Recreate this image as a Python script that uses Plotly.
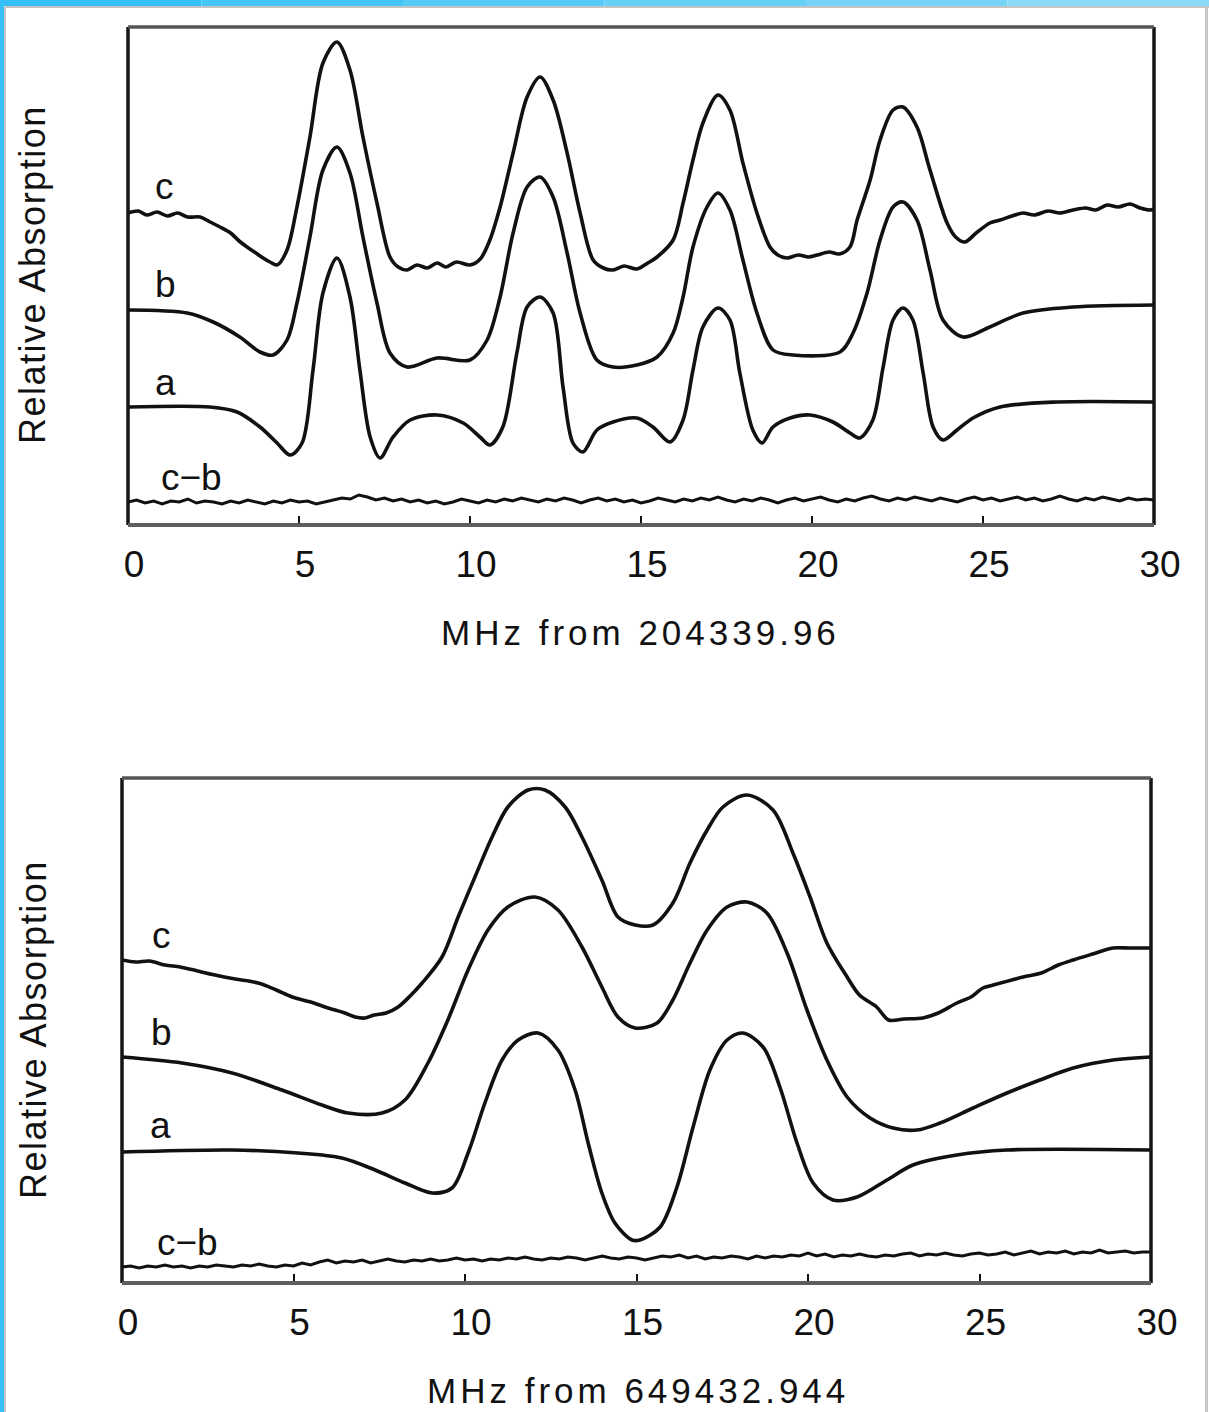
import numpy as np
import plotly.graph_objects as go

# ---------------------------------------------------------------------------
# Spectra: frequency offset (MHz) and relative absorption (arbitrary units)
# ---------------------------------------------------------------------------

# Upper panel: offsets from 204339.96 MHz
TOP_C_MHZ = [0.00, 0.30, 0.55, 0.85, 1.15, 1.45, 1.75, 2.11, 2.40, 2.69, 3.00, 3.25, 3.48, 3.70,
             3.95, 4.15, 4.36, 4.65, 4.94, 5.32, 5.70, 6.11, 6.49, 6.87, 7.28, 7.66, 7.90, 8.16,
             8.45, 8.75, 9.04, 9.30, 9.60, 10.00, 10.30, 10.58, 10.88, 11.26, 11.67, 12.05, 12.43,
             12.84, 13.22, 13.60, 13.90, 14.18, 14.50, 14.88, 15.20, 15.47, 15.94, 16.23, 16.52,
             16.81, 17.25, 17.60, 17.98, 18.39, 18.77, 19.00, 19.27, 19.60, 19.90, 20.15, 20.50,
             20.80, 21.11, 21.32, 21.70, 21.99, 22.37, 22.66, 23.07, 23.45, 23.95, 24.20, 24.47,
             24.80, 25.20, 25.50, 25.85, 26.17, 26.50, 26.90, 27.25, 27.63, 28.00, 28.30, 28.63,
             28.95, 29.30, 29.60, 29.88, 30.00]
TOP_C_ABS = [3.12, 3.14, 3.10, 3.13, 3.09, 3.12, 3.08, 3.08, 3.03, 2.98, 2.92, 2.84, 2.78, 2.73,
             2.67, 2.63, 2.60, 2.75, 3.18, 3.88, 4.62, 4.83, 4.55, 3.88, 3.22, 2.68, 2.58, 2.55,
             2.60, 2.57, 2.62, 2.58, 2.63, 2.60, 2.66, 2.85, 3.18, 3.72, 4.28, 4.48, 4.25,
             3.72, 3.12, 2.65, 2.57, 2.55, 2.59, 2.56, 2.62, 2.68, 2.85, 3.22, 3.65,
             4.02, 4.30, 4.15, 3.62, 3.12, 2.78, 2.70, 2.67, 2.70, 2.68, 2.70, 2.73,
             2.71, 2.78, 3.05, 3.45, 3.85, 4.15, 4.18, 3.98, 3.55, 3.02, 2.88, 2.83,
             2.92, 3.02, 3.05, 3.09, 3.12, 3.10, 3.14, 3.12, 3.15, 3.17, 3.15, 3.20,
             3.18, 3.21, 3.17, 3.15, 3.16]

TOP_B_MHZ = [0.00, 1.73, 2.49, 3.27, 3.86, 4.24, 4.65, 4.94, 5.32, 5.70, 6.11, 6.49, 6.87, 7.28,
             7.66, 8.16, 9.04, 10.00, 10.50, 10.88, 11.26, 11.67, 12.05, 12.43, 12.84, 13.22,
             13.71, 14.18, 14.88, 15.47, 15.94, 16.23, 16.52, 16.93, 17.25, 17.60, 17.98, 18.39,
             18.86, 19.44, 20.82, 21.20, 21.61, 21.99, 22.37, 22.66, 23.07, 23.45, 23.83, 24.42,
             25.20, 26.17, 27.63, 30.00]
TOP_B_ABS = [2.15, 2.12, 2.03, 1.88, 1.73, 1.70, 1.85, 2.22, 2.88, 3.55, 3.78, 3.52, 2.88, 2.22,
             1.72, 1.58, 1.67, 1.65, 1.85, 2.28, 2.92, 3.38, 3.48, 3.28, 2.72, 2.12,
             1.65, 1.58, 1.60, 1.68, 1.92, 2.28, 2.78, 3.18, 3.32, 3.15, 2.65, 2.12,
             1.75, 1.70, 1.73, 1.92, 2.32, 2.85, 3.18, 3.23, 3.05, 2.55, 2.05, 1.88,
             1.98, 2.12, 2.18, 2.20]

TOP_A_MHZ = [0.00, 2.40, 3.19, 3.86, 4.36, 4.74, 5.09, 5.41, 5.70, 6.11, 6.49, 6.78, 7.08, 7.37,
             7.75, 8.25, 9.04, 9.80, 10.29, 10.58, 10.96, 11.37, 11.67, 12.05, 12.43, 12.72,
             13.01, 13.30, 13.71, 14.18, 14.88, 15.35, 15.85, 16.23, 16.52, 16.81, 17.25, 17.60,
             17.89, 18.27, 18.54, 18.86, 19.36, 19.94, 20.61, 21.11, 21.40, 21.78, 22.08, 22.37,
             22.66, 22.95, 23.25, 23.54, 23.83, 24.24, 24.71, 25.50, 27.16, 30.00]
TOP_A_ABS = [1.18, 1.18, 1.13, 0.98, 0.82, 0.70, 0.82, 1.55, 2.32, 2.67, 2.28, 1.55, 0.88, 0.67,
             0.88, 1.05, 1.10, 1.02, 0.88, 0.80, 0.98, 1.72, 2.18, 2.28, 2.12, 1.38,
             0.82, 0.73, 0.95, 1.03, 1.07, 0.98, 0.83, 1.05, 1.55, 1.98, 2.17, 2.05,
             1.52, 0.95, 0.82, 0.98, 1.07, 1.10, 1.03, 0.92, 0.87, 1.05, 1.58, 2.05,
             2.17, 2.05, 1.52, 0.98, 0.85, 0.95, 1.07, 1.18, 1.23, 1.23]

# difference spectrum c-b, sampled every 0.25 MHz
TOP_DIFF_ABS = [0.23, 0.25, 0.22, 0.24, 0.21, 0.24, 0.23, 0.26, 0.22, 0.24,
                0.23, 0.21, 0.24, 0.22, 0.25, 0.23, 0.21, 0.24, 0.22, 0.25,
                0.23, 0.24, 0.21, 0.23, 0.25, 0.27, 0.26, 0.30, 0.28, 0.25,
                0.27, 0.24, 0.26, 0.23, 0.25, 0.22, 0.24, 0.21, 0.23, 0.26,
                0.24, 0.22, 0.25, 0.23, 0.26, 0.24, 0.27, 0.25, 0.23, 0.26,
                0.24, 0.27, 0.25, 0.22, 0.25, 0.27, 0.24, 0.26, 0.23, 0.25,
                0.22, 0.24, 0.27, 0.25, 0.23, 0.26, 0.24, 0.27, 0.25, 0.28,
                0.25, 0.23, 0.26, 0.24, 0.27, 0.25, 0.22, 0.25, 0.27, 0.24,
                0.26, 0.28, 0.25, 0.23, 0.26, 0.24, 0.27, 0.29, 0.26, 0.24,
                0.27, 0.25, 0.28, 0.26, 0.24, 0.27, 0.25, 0.23, 0.26, 0.28,
                0.25, 0.27, 0.24, 0.26, 0.28, 0.25, 0.27, 0.24, 0.26, 0.29,
                0.26, 0.24, 0.27, 0.25, 0.28, 0.26, 0.24, 0.27, 0.25, 0.26,
                0.25]

# Lower panel: offsets from 649432.944 MHz
BOT_C_MHZ = [0.00, 0.40, 0.80, 1.25, 1.70, 2.20, 2.71, 3.30, 3.97, 4.50, 4.96, 5.50, 6.01, 6.50,
             6.80, 7.08, 7.35, 7.70, 8.05, 8.40, 8.75, 9.33, 9.80, 10.29, 10.79, 11.25, 11.84,
             12.33, 12.92, 13.41, 13.99, 14.46, 14.96, 15.48, 16.06, 16.56, 17.06, 17.52, 18.22,
             18.98, 19.56, 20.06, 20.55, 21.14, 21.50, 22.00, 22.35, 22.80, 23.35, 23.80, 24.34,
             24.75, 25.10, 25.40, 26.27, 26.80, 27.30, 27.73, 28.30, 28.89, 29.40, 30.00]
BOT_C_ABS = [3.23, 3.21, 3.22, 3.18, 3.16, 3.12, 3.08, 3.04, 3.00, 2.93, 2.86, 2.81, 2.75, 2.70,
             2.66, 2.65, 2.68, 2.70, 2.76, 2.87, 3.00, 3.26, 3.66, 4.06, 4.46, 4.76, 4.93,
             4.93, 4.76, 4.46, 4.03, 3.66, 3.58, 3.58, 3.80, 4.20, 4.53, 4.76, 4.88,
             4.73, 4.30, 3.86, 3.40, 3.06, 2.88, 2.76, 2.63, 2.64, 2.65, 2.70, 2.80,
             2.86, 2.95, 2.98, 3.06, 3.10, 3.18, 3.23, 3.29, 3.35, 3.35, 3.35]

BOT_B_MHZ = [0.00, 1.75, 3.21, 4.66, 5.83, 6.59, 7.58, 8.25, 8.92, 9.50, 10.09, 10.67, 11.25,
             12.04, 12.71, 13.41, 13.99, 14.46, 14.96, 15.60, 16.06, 16.56, 17.06, 17.64, 18.22,
             18.80, 19.39, 19.97, 20.55, 21.14, 21.81, 22.48, 23.18, 23.85, 24.81, 25.80, 26.76,
             27.73, 28.89, 30.00]
BOT_B_ABS = [2.26, 2.20, 2.10, 1.93, 1.78, 1.70, 1.70, 1.83, 2.20, 2.63, 3.13, 3.53, 3.76,
             3.86, 3.73, 3.36, 2.96, 2.66, 2.55, 2.60, 2.83, 3.20, 3.53, 3.76, 3.81,
             3.70, 3.30, 2.73, 2.23, 1.86, 1.65, 1.55, 1.53, 1.60, 1.75, 1.90, 2.03,
             2.15, 2.23, 2.26]

BOT_A_MHZ = [0.00, 3.21, 5.13, 6.41, 7.38, 8.25, 9.04, 9.62, 10.09, 10.58, 11.08, 11.55, 12.13,
             12.71, 13.21, 13.59, 13.99, 14.37, 14.87, 15.10, 15.69, 16.18, 16.65, 17.14, 17.64,
             18.10, 18.69, 19.18, 19.68, 20.15, 20.73, 21.43, 22.30, 23.06, 24.34, 25.80, 30.00]
BOT_A_ABS = [1.31, 1.33, 1.30, 1.25, 1.13, 1.00, 0.90, 0.95, 1.30, 1.80, 2.23, 2.43, 2.50,
             2.33, 1.93, 1.40, 0.90, 0.60, 0.43, 0.43, 0.56, 0.96, 1.56, 2.13, 2.43,
             2.50, 2.36, 1.96, 1.40, 1.00, 0.83, 0.86, 1.03, 1.18, 1.28, 1.33, 1.33]

BOT_DIFF_ABS = [0.16, 0.17, 0.15, 0.17, 0.16, 0.18, 0.16, 0.17, 0.15, 0.17,
                0.16, 0.18, 0.17, 0.16, 0.18, 0.17, 0.19, 0.17, 0.16, 0.18,
                0.17, 0.20, 0.18, 0.21, 0.23, 0.20, 0.22, 0.21, 0.23, 0.20,
                0.22, 0.24, 0.22, 0.21, 0.23, 0.22, 0.24, 0.22, 0.23, 0.25,
                0.23, 0.24, 0.22, 0.24, 0.23, 0.25, 0.24, 0.26, 0.24, 0.23,
                0.25, 0.24, 0.26, 0.25, 0.23, 0.25, 0.27, 0.25, 0.24, 0.26,
                0.25, 0.23, 0.25, 0.27, 0.26, 0.28, 0.25, 0.27, 0.24, 0.26,
                0.25, 0.27, 0.26, 0.24, 0.27, 0.25, 0.27, 0.26, 0.28, 0.27,
                0.30, 0.27, 0.29, 0.26, 0.28, 0.27, 0.29, 0.27, 0.26, 0.28,
                0.27, 0.29, 0.30, 0.27, 0.29, 0.28, 0.30, 0.28, 0.27, 0.29,
                0.30, 0.28, 0.29, 0.31, 0.28, 0.30, 0.32, 0.29, 0.31, 0.30,
                0.32, 0.29, 0.31, 0.30, 0.33, 0.30, 0.31, 0.32, 0.30, 0.31,
                0.31]

DIFF_STEP_MHZ = 0.25
X_TICKS = [0, 5, 10, 15, 20, 25, 30]
TOP_XTITLE = "MHz from 204339.96"
BOT_XTITLE = "MHz from 649432.944"
YTITLE = "Relative Absorption"
TRACE_LABELS = ["c", "b", "a", "c\u2212b"]

# ---------------------------------------------------------------------------
FONT = "Liberation Sans, Arial, Helvetica, sans-serif"
INK = "#111111"
W, H = 1209, 1412


def px_x(p):
    return p / W


def px_y(p):
    return 1 - p / H


diff_x_top = np.arange(len(TOP_DIFF_ABS)) * DIFF_STEP_MHZ
diff_x_bot = np.arange(len(BOT_DIFF_ABS)) * DIFF_STEP_MHZ

fig = go.Figure()


def add_curve(x, y, axis, shape="spline", width=3.6):
    line = dict(color=INK, width=width, shape=shape)
    if shape == "spline":
        line["smoothing"] = 0.9
    fig.add_trace(go.Scatter(
        x=x, y=y, mode="lines", xaxis="x" + axis, yaxis="y" + axis,
        line=line, hoverinfo="skip", showlegend=False))


add_curve(TOP_C_MHZ, TOP_C_ABS, "")
add_curve(TOP_B_MHZ, TOP_B_ABS, "")
add_curve(TOP_A_MHZ, TOP_A_ABS, "")
add_curve(diff_x_top, TOP_DIFF_ABS, "", shape="linear", width=3)

add_curve(BOT_C_MHZ, BOT_C_ABS, "2")
add_curve(BOT_B_MHZ, BOT_B_ABS, "2")
add_curve(BOT_A_MHZ, BOT_A_ABS, "2")
add_curve(diff_x_bot, BOT_DIFF_ABS, "2", shape="linear", width=3)

# panel frames (pixel boxes)
TOP_BOX = (128, 27, 1154, 525)
BOT_BOX = (122, 778, 1151, 1283)

xaxis_common = dict(
    range=[0, 30], tickvals=X_TICKS, ticks="inside", ticklen=9, tickwidth=2,
    tickcolor=INK, showgrid=False, zeroline=False, showline=False, automargin=False,
    tickfont=dict(family=FONT, size=37, color="#111"), ticklabelstandoff=14,
    ticklabelshift=6,
)
yaxis_common = dict(showticklabels=False, ticks="", showgrid=False, zeroline=False,
                    showline=False, automargin=False)

fig.update_layout(
    width=W, height=H, autosize=False,
    margin=dict(l=0, r=0, t=0, b=0, pad=0, autoexpand=False),
    paper_bgcolor="white", plot_bgcolor="white",
    xaxis=dict(domain=[px_x(TOP_BOX[0]), px_x(TOP_BOX[2])], anchor="y", **xaxis_common),
    yaxis=dict(domain=[px_y(TOP_BOX[3]), px_y(TOP_BOX[1])], anchor="x",
               range=[0, 4.98], **yaxis_common),
    xaxis2=dict(domain=[px_x(BOT_BOX[0]), px_x(BOT_BOX[2])], anchor="y2", **xaxis_common),
    yaxis2=dict(domain=[px_y(BOT_BOX[3]), px_y(BOT_BOX[1])], anchor="x2",
                range=[0, 5.05], **yaxis_common),
)

shapes = []

# frames: dark side edges, greyer top and bottom edges
for box in (TOP_BOX, BOT_BOX):
    x0, y0, x1, y1 = px_x(box[0]), px_y(box[1]), px_x(box[2]), px_y(box[3])
    for (a, b, c, d, col, w) in [
        (x0, y1, x0, y0, "#151515", 3.5),
        (x1, y1, x1, y0, "#151515", 3.5),
        (x0, y0, x1, y0, "#555555", 3.5),
        (x0, y1, x1, y1, "#5e5e5e", 4),
    ]:
        shapes.append(dict(type="line", xref="paper", yref="paper", x0=a, y0=b, x1=c, y1=d,
                           line=dict(color=col, width=w)))

# page decoration: cyan strips along the top and left edges, thin grey rules
cyan_steps = ["#35c1f5", "#45c6f6", "#55cbf7", "#66d0f7", "#78d5f8", "#8adaf9"]
n = len(cyan_steps)
for i, col in enumerate(cyan_steps):
    shapes.append(dict(type="rect", xref="paper", yref="paper", x0=i / n, x1=(i + 1) / n,
                       y0=px_y(6), y1=1, fillcolor=col, line=dict(width=0), layer="above"))
shapes.append(dict(type="rect", xref="paper", yref="paper", x0=0, x1=px_x(4), y0=0, y1=1,
                   fillcolor="#35c1f5", line=dict(width=0), layer="above"))
shapes.append(dict(type="line", xref="paper", yref="paper", x0=px_x(5), x1=1, y0=px_y(7),
                   y1=px_y(7), line=dict(color="#c4c4c4", width=2)))
shapes.append(dict(type="line", xref="paper", yref="paper", x0=px_x(5), x1=px_x(5), y0=0,
                   y1=px_y(7), line=dict(color="#c4c4c4", width=2)))
shapes.append(dict(type="line", xref="paper", yref="paper", x0=px_x(1206.5), x1=px_x(1206.5),
                   y0=0, y1=px_y(7), line=dict(color="#c8c8c8", width=3)))

annotations = []


def label(text, xpx, ypx, size=37, angle=0, spacing=0):
    if spacing:
        text = '<span style="letter-spacing:%gpx">%s</span>' % (spacing, text)
    annotations.append(dict(text=text, xref="paper", yref="paper", x=px_x(xpx), y=px_y(ypx),
                            xanchor="center", yanchor="middle", showarrow=False,
                            textangle=angle, font=dict(family=FONT, size=size, color="#111")))


# curve labels
for txt, (xp, yp) in zip(TRACE_LABELS, [(164, 187), (165, 284), (165, 382), (191, 477)]):
    label(txt, xp, yp, size=37)
for txt, (xp, yp) in zip(TRACE_LABELS, [(161, 935), (162, 1032), (160, 1125), (187, 1242)]):
    label(txt, xp, yp, size=37)

# axis titles
label(TOP_XTITLE, 640, 632, size=35, spacing=4)
label(BOT_XTITLE, 638, 1390, size=35, spacing=4)
label(YTITLE, 33, 275, size=36, angle=-90, spacing=1.5)
label(YTITLE, 33, 1030, size=36, angle=-90, spacing=1.5)

fig.update_layout(shapes=shapes, annotations=annotations)

fig.write_html("out.html")
